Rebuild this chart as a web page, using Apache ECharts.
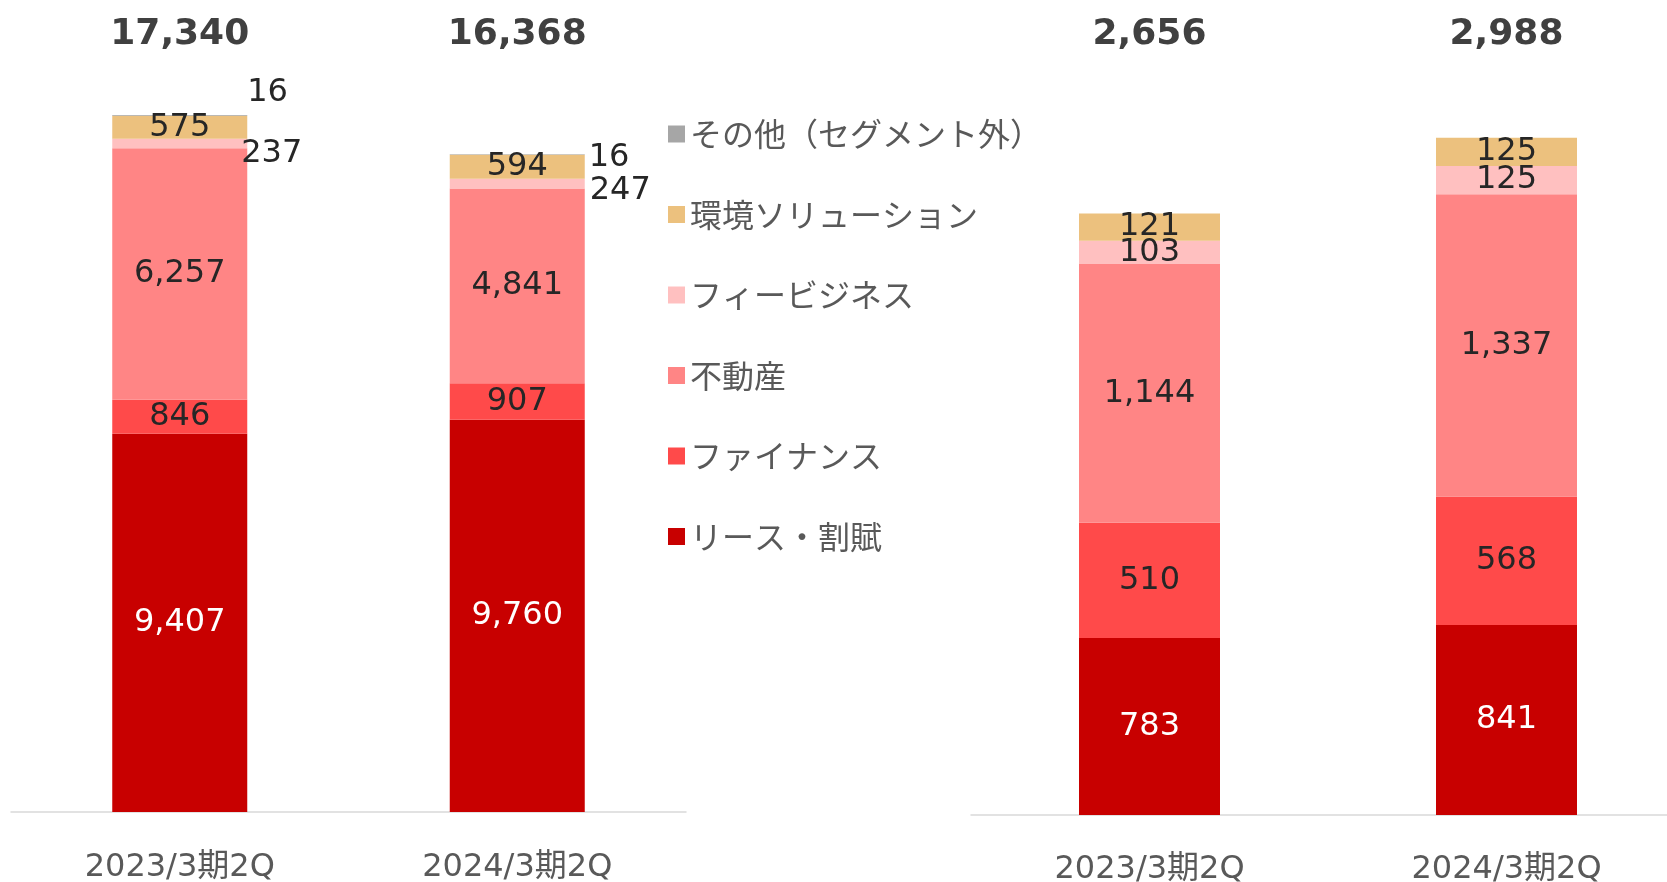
<!DOCTYPE html>
<html>
<head>
<meta charset="utf-8">
<script src="https://cdn.jsdelivr.net/npm/echarts@6/dist/echarts.min.js"></script>
<style>
  html, body { margin: 0; padding: 0; background: #fff; }
  #main { width: 1667px; height: 882px; }
</style>
</head>
<body>
<div id="main"></div>
<script>
// カテゴリ
const categories = ['2023/3期2Q', '2024/3期2Q']
// 凡例の並び（上から）
const legendOrder = ['その他（セグメント外）', '環境ソリューション', 'フィービジネス', '不動産', 'ファイナンス', 'リース・割賦']

// 左のグラフ
const leaseL = [9407, 9760]
const financeL = [846, 907]
const realEstateL = [6257, 4841]
const feeL = [237, 247]
const envL = [575, 594]
const otherL = [16, 16]
const totalL = [17340, 16368]

// 右のグラフ（その他は表示なし）
const leaseR = [783, 841]
const financeR = [510, 568]
const realEstateR = [1144, 1337]
const feeR = [103, 125]
const envR = [121, 125]
const otherR = [null, null]
const totalR = [2656, 2988]

const colors = {
  'リース・割賦': '#C80000',
  'ファイナンス': '#FF4A4A',
  '不動産': '#FF8585',
  'フィービジネス': '#FFC0C0',
  '環境ソリューション': '#ECC17E',
  'その他（セグメント外）': '#A6A6A6'
}

const fmt = v => (v == null ? '' : Number(v).toLocaleString('en-US'))
const numFont = 'DejaVu Sans'

function barSeries (name, values, side, labelColor, extraLabels) {
  const idx = side === 'L' ? 0 : 1
  return {
    name: name,
    type: 'bar',
    stack: side,
    xAxisIndex: idx,
    yAxisIndex: idx,
    barWidth: side === 'L' ? 135 : 141,
    itemStyle: { color: colors[name] },
    emphasis: { disabled: true },
    label: {
      show: true,
      position: 'inside',
      color: labelColor,
      fontFamily: numFont,
      fontSize: 32,
      formatter: p => fmt(p.value)
    },
    data: values.map((v, i) => {
      const extra = extraLabels && extraLabels[i]
      return extra ? { value: v, label: extra } : v
    })
  }
}

// 小さい区分は棒の右外に出す
const outRight = (dx, dy) => ({ position: 'right', distance: dx, offset: [0, dy] })

const series = [
  barSeries('リース・割賦', leaseL, 'L', '#ffffff'),
  barSeries('ファイナンス', financeL, 'L', '#262626'),
  barSeries('不動産', realEstateL, 'L', '#262626'),
  barSeries('フィービジネス', feeL, 'L', '#262626', [outRight(-6, 10), outRight(5, 7)]),
  barSeries('環境ソリューション', envL, 'L', '#262626'),
  barSeries('その他（セグメント外）', otherL, 'L', '#262626', [outRight(0, -23), outRight(4, 3)]),

  barSeries('リース・割賦', leaseR, 'R', '#ffffff'),
  barSeries('ファイナンス', financeR, 'R', '#262626'),
  barSeries('不動産', realEstateR, 'R', '#262626'),
  barSeries('フィービジネス', feeR, 'R', '#262626'),
  barSeries('環境ソリューション', envR, 'R', '#262626'),
  barSeries('その他（セグメント外）', otherR, 'R', '#262626')
]

const catAxis = (gridIndex, margin) => ({
  type: 'category',
  gridIndex: gridIndex,
  data: categories,
  axisLine: { lineStyle: { color: '#D9D9D9', width: 1.5 } },
  axisTick: { show: false },
  axisLabel: {
    margin: margin,
    color: '#595959',
    fontSize: 32,
    fontFamily: 'DejaVu Sans, "Noto Sans CJK JP"'
  }
})

// 合計は上側の軸ラベルで表示
const totalAxis = (gridIndex, totals) => ({
  type: 'category',
  gridIndex: gridIndex,
  position: 'top',
  data: totals.map(fmt),
  axisLine: { show: false },
  axisTick: { show: false },
  axisLabel: {
    inside: true,
    margin: 9,
    color: '#404040',
    fontSize: 36,
    fontWeight: 'bold',
    fontFamily: numFont
  }
})

const myChart = echarts.init(document.getElementById('main'), null, { renderer: 'canvas' })
myChart.setOption({
  animation: false,
  grid: [
    { left: 11, right: 981, top: 8, bottom: 70, outerBoundsMode: 'none' },
    { left: 971, right: -18, top: 8, bottom: 67, outerBoundsMode: 'none' }
  ],
  legend: {
    orient: 'vertical',
    left: 663,
    top: 113,
    icon: 'rect',
    itemWidth: 17,
    itemHeight: 17,
    itemGap: 48.5,
    itemTextGap: 10,
    selectedMode: false,
    data: legendOrder,
    textStyle: {
      color: '#595959',
      fontSize: 32,
      lineHeight: 32,
      fontFamily: '"Noto Sans CJK JP"'
    }
  },
  xAxis: [
    catAxis(0, 40),
    catAxis(1, 39),
    totalAxis(0, totalL),
    totalAxis(1, totalR)
  ],
  yAxis: [
    { type: 'value', gridIndex: 0, min: 0, max: 20000, show: false },
    { type: 'value', gridIndex: 1, min: 0, max: 3570, show: false }
  ],
  series: series
})
</script>
</body>
</html>
